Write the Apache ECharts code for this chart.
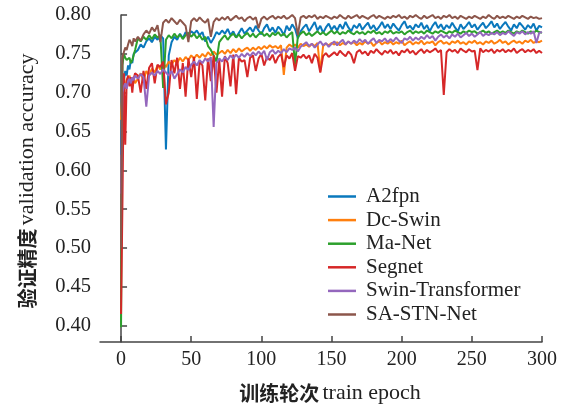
<!DOCTYPE html>
<html>
<head>
<meta charset="utf-8">
<script src="https://cdn.jsdelivr.net/npm/echarts@6/dist/echarts.min.js"></script>
<style>html,body{margin:0;padding:0;background:#fff}#c{width:570px;height:405px}</style>
</head>
<body>
<div id="c"></div>
<script>
// x values: every epoch 0-10, then every 2 epochs to 300
const epochs = [];
for (let e = 0; e <= 10; e++) epochs.push(e);
for (let e = 12; e <= 300; e += 2) epochs.push(e);

const seriesNames = ['A2fpn', 'Dc-Swin', 'Ma-Net', 'Segnet', 'Swin-Transformer', 'SA-STN-Net'];
const xTicks = [0, 50, 100, 150, 200, 250, 300];
const yTicks = [0.40, 0.45, 0.50, 0.55, 0.60, 0.65, 0.70, 0.75, 0.80];

const a2fpn = [
0.620,0.700,0.715,0.728,0.722,0.735,0.730,0.742,0.738,0.750,0.748,
0.755,0.762,0.758,0.766,0.770,0.765,0.772,0.768,0.774,0.770,
0.627,0.748,0.765,0.772,0.768,0.776,0.770,0.778,0.774,0.779,
0.776,0.780,0.774,0.778,0.766,0.772,0.764,0.770,0.778,0.775,
0.780,0.776,0.782,0.774,0.779,0.771,0.777,0.783,0.776,0.780,
0.784,0.778,0.786,0.780,0.775,0.783,0.788,0.779,0.784,0.777,
0.785,0.781,0.774,0.786,0.780,0.788,0.782,0.770,0.779,0.784,
0.788,0.779,0.785,0.791,0.780,0.786,0.777,0.784,0.789,0.781,
0.786,0.780,0.788,0.782,0.791,0.784,0.779,0.787,0.783,0.789,
0.781,0.786,0.790,0.782,0.787,0.780,0.785,0.791,0.783,0.788,
0.782,0.789,0.784,0.780,0.787,0.792,0.783,0.786,0.781,0.788,
0.784,0.790,0.782,0.787,0.779,0.786,0.791,0.783,0.788,0.781,
0.787,0.783,0.790,0.784,0.779,0.788,0.782,0.786,0.791,0.784,
0.788,0.781,0.786,0.790,0.783,0.787,0.792,0.784,0.789,0.782,
0.787,0.791,0.785,0.780,0.788,0.783,0.790,0.786,0.781,0.787,
0.783,0.789,0.780,0.786,0.784
];
const dcSwin = [
0.665,0.700,0.712,0.705,0.718,0.710,0.722,0.715,0.708,0.720,0.712,
0.718,0.725,0.716,0.728,0.722,0.731,0.726,0.735,0.730,0.738,
0.733,0.740,0.736,0.742,0.738,0.745,0.740,0.746,0.742,0.748,
0.744,0.749,0.745,0.750,0.746,0.752,0.748,0.753,0.749,0.751,
0.754,0.750,0.755,0.751,0.756,0.752,0.757,0.753,0.756,0.758,
0.754,0.758,0.755,0.759,0.756,0.760,0.757,0.761,0.758,0.760,
0.757,0.761,0.723,0.758,0.762,0.759,0.762,0.758,0.763,0.760,
0.762,0.759,0.763,0.760,0.764,0.727,0.760,0.763,0.761,0.764,
0.762,0.765,0.761,0.764,0.762,0.766,0.763,0.765,0.761,0.764,
0.762,0.766,0.763,0.765,0.760,0.764,0.766,0.762,0.765,0.763,
0.766,0.762,0.765,0.763,0.767,0.761,0.764,0.766,0.762,0.765,
0.763,0.767,0.762,0.765,0.764,0.766,0.761,0.765,0.767,0.763,
0.765,0.762,0.766,0.764,0.767,0.763,0.765,0.762,0.766,0.764,
0.767,0.763,0.765,0.762,0.766,0.764,0.767,0.763,0.765,0.768,
0.764,0.766,0.762,0.765,0.767,0.764,0.766,0.763,0.767,0.765,
0.768,0.764,0.766,0.765,0.767
];
const maNet = [
0.398,0.735,0.750,0.745,0.742,0.740,0.745,0.738,0.742,0.740,0.755,
0.770,0.766,0.772,0.768,0.774,0.769,0.775,0.771,0.774,0.706,
0.768,0.774,0.770,0.776,0.771,0.775,0.769,0.774,0.777,0.772,
0.776,0.770,0.774,0.768,0.772,0.760,0.755,0.748,0.740,0.765,
0.770,0.774,0.768,0.773,0.776,0.771,0.775,0.770,0.774,0.777,
0.772,0.776,0.771,0.775,0.778,0.773,0.776,0.772,0.777,0.774,
0.778,0.773,0.776,0.771,0.775,0.778,0.736,0.772,0.776,0.779,
0.774,0.777,0.773,0.776,0.779,0.775,0.778,0.774,0.777,0.780,
0.776,0.779,0.775,0.778,0.776,0.780,0.777,0.775,0.779,0.776,
0.778,0.775,0.779,0.777,0.780,0.776,0.778,0.775,0.779,0.777,
0.780,0.776,0.778,0.777,0.779,0.775,0.778,0.780,0.776,0.779,
0.777,0.779,0.776,0.780,0.778,0.776,0.779,0.777,0.780,0.778,
0.776,0.779,0.777,0.780,0.778,0.776,0.779,0.777,0.780,0.778,
0.779,0.776,0.778,0.780,0.777,0.779,0.776,0.778,0.780,0.777,
0.779,0.777,0.780,0.778,0.776,0.779,0.777,0.780,0.778,0.776,
0.779,0.777,0.780,0.778,0.777
];
const segnet = [
0.415,0.560,0.725,0.633,0.715,0.722,0.708,0.720,0.700,0.718,0.725,
0.722,0.700,0.728,0.705,0.732,0.738,0.712,0.736,0.733,0.740,
0.685,0.700,0.742,0.725,0.745,0.705,0.738,0.695,0.744,0.720,
0.746,0.692,0.740,0.735,0.690,0.744,0.715,0.748,0.700,0.742,
0.695,0.747,0.738,0.708,0.749,0.698,0.745,0.740,0.742,0.720,
0.745,0.748,0.728,0.744,0.750,0.735,0.746,0.742,0.749,0.738,
0.746,0.750,0.733,0.748,0.744,0.751,0.728,0.747,0.745,0.749,
0.744,0.748,0.738,0.750,0.745,0.726,0.747,0.751,0.746,0.749,
0.752,0.748,0.754,0.750,0.747,0.753,0.749,0.738,0.752,0.755,
0.750,0.753,0.748,0.754,0.751,0.756,0.752,0.749,0.754,0.751,
0.755,0.750,0.753,0.748,0.754,0.752,0.756,0.751,0.754,0.749,
0.753,0.756,0.751,0.755,0.752,0.754,0.757,0.752,0.755,0.697,
0.752,0.756,0.753,0.755,0.751,0.757,0.754,0.752,0.756,0.753,
0.754,0.729,0.757,0.752,0.755,0.753,0.756,0.751,0.755,0.753,
0.756,0.752,0.755,0.753,0.757,0.751,0.754,0.756,0.752,0.755,
0.753,0.756,0.751,0.754,0.751
];
const swinT = [
0.570,0.700,0.708,0.712,0.705,0.715,0.718,0.712,0.720,0.716,0.722,
0.718,0.724,0.720,0.682,0.722,0.726,0.722,0.728,0.724,0.730,
0.726,0.722,0.728,0.718,0.724,0.730,0.726,0.733,0.729,0.736,
0.740,0.735,0.742,0.738,0.744,0.740,0.746,0.656,0.738,0.744,
0.740,0.746,0.742,0.748,0.744,0.749,0.745,0.750,0.746,0.751,
0.747,0.752,0.748,0.753,0.749,0.754,0.742,0.752,0.755,0.750,
0.754,0.751,0.756,0.752,0.757,0.755,0.758,0.753,0.759,0.762,
0.765,0.760,0.763,0.758,0.762,0.766,0.761,0.764,0.759,0.763,
0.766,0.761,0.765,0.768,0.762,0.766,0.763,0.767,0.764,0.769,
0.765,0.768,0.763,0.767,0.770,0.764,0.768,0.766,0.770,0.765,
0.769,0.766,0.771,0.767,0.764,0.770,0.768,0.772,0.767,0.771,
0.768,0.772,0.769,0.774,0.770,0.773,0.767,0.772,0.775,0.771,
0.774,0.770,0.775,0.772,0.776,0.771,0.774,0.777,0.773,0.776,
0.772,0.775,0.778,0.773,0.776,0.774,0.777,0.775,0.778,0.774,
0.777,0.775,0.779,0.776,0.773,0.778,0.776,0.779,0.775,0.778,
0.776,0.779,0.764,0.777,0.778
];
const saStn = [
0.500,0.745,0.752,0.758,0.755,0.762,0.768,0.765,0.760,0.770,0.766,
0.772,0.767,0.775,0.780,0.776,0.784,0.779,0.787,0.765,0.790,
0.794,0.790,0.796,0.792,0.788,0.794,0.790,0.786,0.765,0.792,
0.796,0.792,0.797,0.793,0.790,0.795,0.772,0.791,0.796,0.793,
0.797,0.794,0.798,0.793,0.796,0.799,0.795,0.797,0.792,0.796,
0.798,0.794,0.797,0.783,0.795,0.798,0.794,0.797,0.799,0.795,
0.798,0.796,0.799,0.795,0.797,0.800,0.796,0.774,0.797,0.799,
0.796,0.799,0.797,0.800,0.795,0.798,0.796,0.799,0.797,0.795,
0.798,0.796,0.800,0.797,0.795,0.799,0.796,0.798,0.800,0.796,
0.799,0.797,0.795,0.798,0.800,0.796,0.799,0.797,0.795,0.798,
0.796,0.799,0.797,0.800,0.796,0.798,0.795,0.799,0.797,0.800,
0.797,0.795,0.799,0.796,0.798,0.800,0.796,0.798,0.795,0.799,
0.797,0.800,0.796,0.798,0.795,0.799,0.797,0.795,0.798,0.796,
0.799,0.797,0.795,0.798,0.796,0.800,0.797,0.795,0.799,0.796,
0.798,0.796,0.799,0.797,0.795,0.798,0.796,0.799,0.797,0.795,
0.798,0.796,0.797,0.795,0.796
];

const allValues = [a2fpn, dcSwin, maNet, segnet, swinT, saStn];
const colors = ['#0a78bd', '#ff7f0e', '#2ca02c', '#d62728', '#9467bd', '#8c564b'];

const SERIF = '"Liberation Serif", "Noto Sans CJK SC", serif';
const axisColor = '#444';

const titleRich = {
  cn: {fontFamily: '"Noto Sans CJK SC"', fontWeight: 'bold', fontSize: 20, fill: '#222'},
  en: {fontFamily: '"Liberation Serif"', fontSize: 22, fill: '#222'}
};

const chart = echarts.init(document.getElementById('c'), null, {renderer: 'canvas'});
chart.setOption({
  animation: false,
  backgroundColor: '#fff',
  grid: {left: 100, right: 28, top: 15, bottom: 63, containLabel: false},
  legend: {
    orient: 'vertical',
    left: 323,
    top: 181,
    icon: 'rect',
    itemWidth: 28,
    itemHeight: 2.5,
    itemGap: 2.6,
    textStyle: {fontFamily: SERIF, fontSize: 21, color: '#222', padding: [0, 0, 0, 5], lineHeight: 20},
    data: seriesNames
  },
  xAxis: {
    type: 'value',
    min: -15,
    max: 300,
    splitLine: {show: false},
    axisLine: {show: true, lineStyle: {color: axisColor, width: 1.5}},
    axisTick: {show: true, inside: true, length: 6, lineStyle: {color: axisColor, width: 1.5}, customValues: xTicks},
    axisLabel: {fontFamily: SERIF, fontSize: 20, color: '#222', margin: 8, customValues: xTicks}
  },
  yAxis: {
    type: 'value',
    min: 0.379,
    max: 0.80,
    splitLine: {show: false},
    axisLine: {show: true, lineStyle: {color: axisColor, width: 1.5}},
    axisTick: {show: true, inside: true, length: 6, lineStyle: {color: axisColor, width: 1.5}, customValues: yTicks},
    axisLabel: {fontFamily: SERIF, fontSize: 20.5, color: '#222', margin: 9, customValues: yTicks,
      formatter: v => v.toFixed(2)}
  },
  graphic: [
    {type: 'text', x: 330, y: 393, style: {text: '{cn|训练轮次} {en|train epoch}', rich: titleRich, align: 'center', verticalAlign: 'middle'}},
    {type: 'text', x: 27, y: 181, rotation: Math.PI / 2, style: {text: '{cn|验证精度} {en|validation accuracy}', rich: titleRich, align: 'center', verticalAlign: 'middle'}}
  ],
  series: seriesNames.map((name, i) => ({
    name: name,
    type: 'line',
    showSymbol: false,
    symbol: 'none',
    clip: true,
    color: colors[i],
    lineStyle: {width: 2, color: colors[i]},
    data: epochs.map((e, k) => [e, allValues[i][k]])
  }))
});
</script>
</body>
</html>
